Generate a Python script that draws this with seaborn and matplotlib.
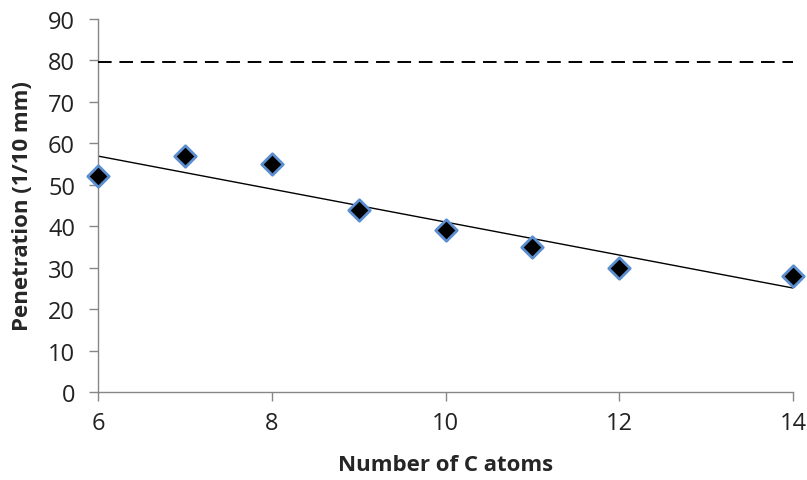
import matplotlib
matplotlib.use("Agg")
import matplotlib.pyplot as plt
import seaborn as sns
import numpy as np
import pandas as pd

carbon_atoms = [6, 7, 8, 9, 10, 11, 12, 14]
penetration = [52, 57, 55, 44, 39, 35, 30, 28]
reference_level = 79.7
x_ticks = [6, 8, 10, 12, 14]
y_ticks = [0, 10, 20, 30, 40, 50, 60, 70, 80, 90]

df = pd.DataFrame({"x": carbon_atoms, "y": penetration})

sns.set_style("white")
plt.rcParams["font.family"] = ["Open Sans", "DejaVu Sans"]

W, H = 807, 481
L, R, B, T = 98, 793, 393, 20
fig = plt.figure(figsize=(W / 100, H / 100), dpi=100)
ax = fig.add_axes([L / W, (H - B) / H, (R - L) / W, (B - T) / H])

sns.regplot(data=df, x="x", y="y", ax=ax, ci=None, scatter=False,
            line_kws=dict(color="black", lw=1.0), truncate=True)
sns.scatterplot(data=df, x="x", y="y", ax=ax, marker="D", s=120,
                color="black", edgecolor="#5b8fd0", linewidth=2.0, zorder=5,
                clip_on=False)
ax.axhline(reference_level, color="black", lw=1.4, ls=(0, (7, 4)), zorder=3)

ax.set_xlim(6, 14)
ax.set_ylim(0, 90)
ax.set_xticks(x_ticks)
ax.set_yticks(y_ticks)
ax.tick_params(axis="both", direction="out", length=6.5, width=1, color="#868686",
               labelsize=17, labelcolor="#222222", bottom=True, left=True)
ax.tick_params(axis="y", pad=10)
ax.tick_params(axis="x", pad=7)
for s in ["top", "right"]:
    ax.spines[s].set_visible(False)
for s in ["left", "bottom"]:
    ax.spines[s].set_color("#868686")
    ax.spines[s].set_linewidth(1)
ax.set_xlabel("Number of C atoms", fontsize=16, fontweight="bold")
ax.set_ylabel("Penetration (1/10 mm)", fontsize=16, fontweight="bold")
ax.xaxis.set_label_coords(0.5, (B - 466) / (B - T), transform=ax.transAxes)
ax.yaxis.set_label_coords((23 - L) / (R - L), 0.5, transform=ax.transAxes)
ax.xaxis.label.set_va("center")
ax.yaxis.label.set_va("center")

fig.savefig("out.png", dpi=100)
